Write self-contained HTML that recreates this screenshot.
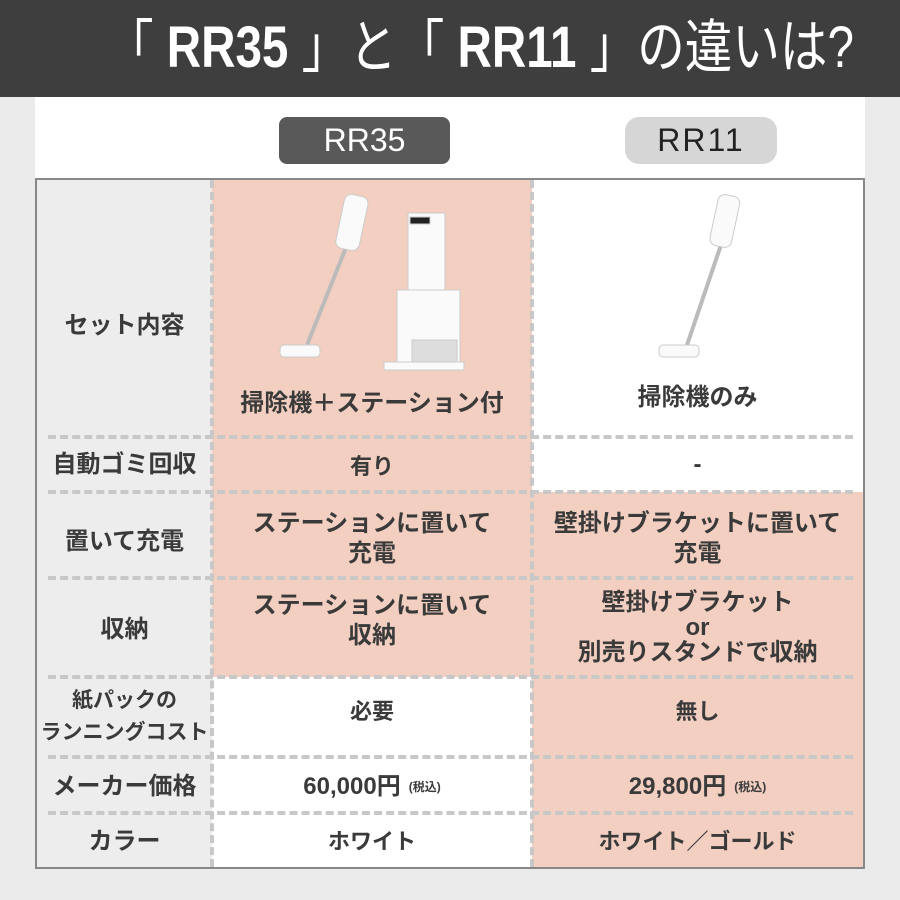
<!DOCTYPE html>
<html><head><meta charset="utf-8"><style>
*{margin:0;padding:0;box-sizing:border-box}
body{width:900px;height:900px;background:#ebebeb;position:relative;overflow:hidden;font-family:"Liberation Sans","Noto Sans CJK JP",sans-serif;}
.abs{position:absolute}
.c{position:absolute;display:flex;align-items:center;justify-content:center;text-align:center;font-weight:bold;color:#3a3a3a;font-size:24px;line-height:30px}
.pk{background:#f2cfc1}.wh{background:#fff}.gr{background:#ededed}
.hl{position:absolute;height:0;border-top:4px dashed #c8c8c8}
.vl{position:absolute;width:0;border-left:4px dashed #c8c8c8}
</style></head><body>
<div class="abs" style="left:0;top:0;width:900px;height:97px;background:#3e3e3e"></div>
<div class="abs" style="left:106px;top:0px;font-size:58px;color:#fff;white-space:nowrap;transform:scaleX(0.82);transform-origin:left top">「 <b>RR35</b> 」と「 <b>RR11</b> 」の違いは?</div>
<div class="abs" style="left:35px;top:97px;width:830px;height:81px;background:#fff"></div>
<div class="abs" style="left:279px;top:117px;width:171px;height:47px;background:#595959;border-radius:8px;color:#fff;font-size:32px;text-align:center;line-height:47px">RR35</div>
<div class="abs" style="left:625px;top:117px;width:152px;height:47px;background:#d6d6d6;border-radius:14px;color:#222;font-size:32px;text-align:center;line-height:47px;letter-spacing:2px">RR11</div>

<div class="abs" style="left:35px;top:178px;width:830px;height:691px;border:2px solid #888;background:#ededed"></div>
<div class="c gr" style="left:37px;top:180px;width:175px;height:257px;padding-top:34px">セット内容</div>
<div class="c gr" style="left:37px;top:437px;width:175px;height:55px">自動ゴミ回収</div>
<div class="c gr" style="left:37px;top:492px;width:175px;height:86px;padding-top:14px">置いて充電</div>
<div class="c gr" style="left:37px;top:578px;width:175px;height:99px;padding-top:4px">収納</div>
<div class="c gr" style="left:37px;top:677px;width:175px;height:80px;font-size:21px;line-height:32px">紙パックの<br>ランニングコスト</div>
<div class="c gr" style="left:37px;top:757px;width:175px;height:56px;padding-top:4px">メーカー価格</div>
<div class="c gr" style="left:37px;top:813px;width:175px;height:54px;padding-top:4px">カラー</div>

<div class="c pk" style="left:212px;top:180px;width:320px;height:257px;align-items:flex-end;padding-bottom:18px">掃除機＋ステーション付</div>
<div class="c pk" style="left:212px;top:437px;width:320px;height:55px;font-size:22px;padding-top:4px">有り</div>
<div class="c pk" style="left:212px;top:492px;width:320px;height:86px;padding-top:8px">ステーションに置いて<br>充電</div>
<div class="c pk" style="left:212px;top:578px;width:320px;height:99px;padding-bottom:14px">ステーションに置いて<br>収納</div>
<div class="c wh" style="left:212px;top:677px;width:320px;height:80px;font-size:22px;padding-bottom:10px">必要</div>
<div class="c wh" style="left:212px;top:757px;width:320px;height:56px;padding-top:4px">60,000円<span style="font-size:12px;margin-left:8px">(税込)</span></div>
<div class="c wh" style="left:212px;top:813px;width:320px;height:54px;font-size:22px;padding-top:4px">ホワイト</div>

<div class="c wh" style="left:532px;top:180px;width:331px;height:257px;align-items:flex-end;padding-bottom:24px">掃除機のみ</div>
<div class="c wh" style="left:532px;top:437px;width:331px;height:55px">-</div>
<div class="c pk" style="left:532px;top:492px;width:331px;height:86px;padding-top:8px">壁掛けブラケットに置いて<br>充電</div>
<div class="c pk" style="left:532px;top:578px;width:331px;height:99px;line-height:25px">壁掛けブラケット<br>or<br>別売りスタンドで収納</div>
<div class="c pk" style="left:532px;top:677px;width:331px;height:80px;font-size:22px;padding-bottom:10px">無し</div>
<div class="c pk" style="left:532px;top:757px;width:331px;height:56px;padding-top:4px">29,800円<span style="font-size:12px;margin-left:8px">(税込)</span></div>
<div class="c pk" style="left:532px;top:813px;width:331px;height:54px;font-size:22px;padding-top:4px">ホワイト／ゴールド</div>

<svg class="abs" style="left:212px;top:180px" width="651" height="200">
 <g fill="#fafafa" stroke="#ccc" stroke-width="1">
  <line x1="135" y1="65" x2="95" y2="165" stroke="#bbb" stroke-width="4"/>
  <rect x="128" y="15" width="24" height="55" rx="7" transform="rotate(12 140 42)"/>
  <rect x="68" y="165" width="40" height="12" rx="4"/>
  <rect x="196" y="33" width="37" height="80" />
  <rect x="198" y="37" width="20" height="7" fill="#222"/>
  <rect x="185" y="110" width="63" height="75" />
  <rect x="200" y="160" width="45" height="25" fill="#ddd"/>
  <rect x="172" y="182" width="80" height="8" />
 </g>
 <g fill="#fafafa" stroke="#ccc" stroke-width="1">
  <line x1="510" y1="62" x2="475" y2="165" stroke="#bbb" stroke-width="4"/>
  <rect x="502" y="15" width="22" height="52" rx="7" transform="rotate(12 513 40)"/>
  <rect x="447" y="165" width="40" height="12" rx="4"/>
 </g>
</svg>

<div class="vl" style="left:210px;top:180px;height:687px"></div>
<div class="vl" style="left:530px;top:180px;height:687px"></div>
<div class="hl" style="left:48px;top:435px;width:805px"></div>
<div class="hl" style="left:48px;top:490px;width:805px"></div>
<div class="hl" style="left:48px;top:576px;width:805px"></div>
<div class="hl" style="left:48px;top:675px;width:805px"></div>
<div class="hl" style="left:48px;top:755px;width:805px"></div>
<div class="hl" style="left:48px;top:811px;width:805px"></div>
</body></html>
